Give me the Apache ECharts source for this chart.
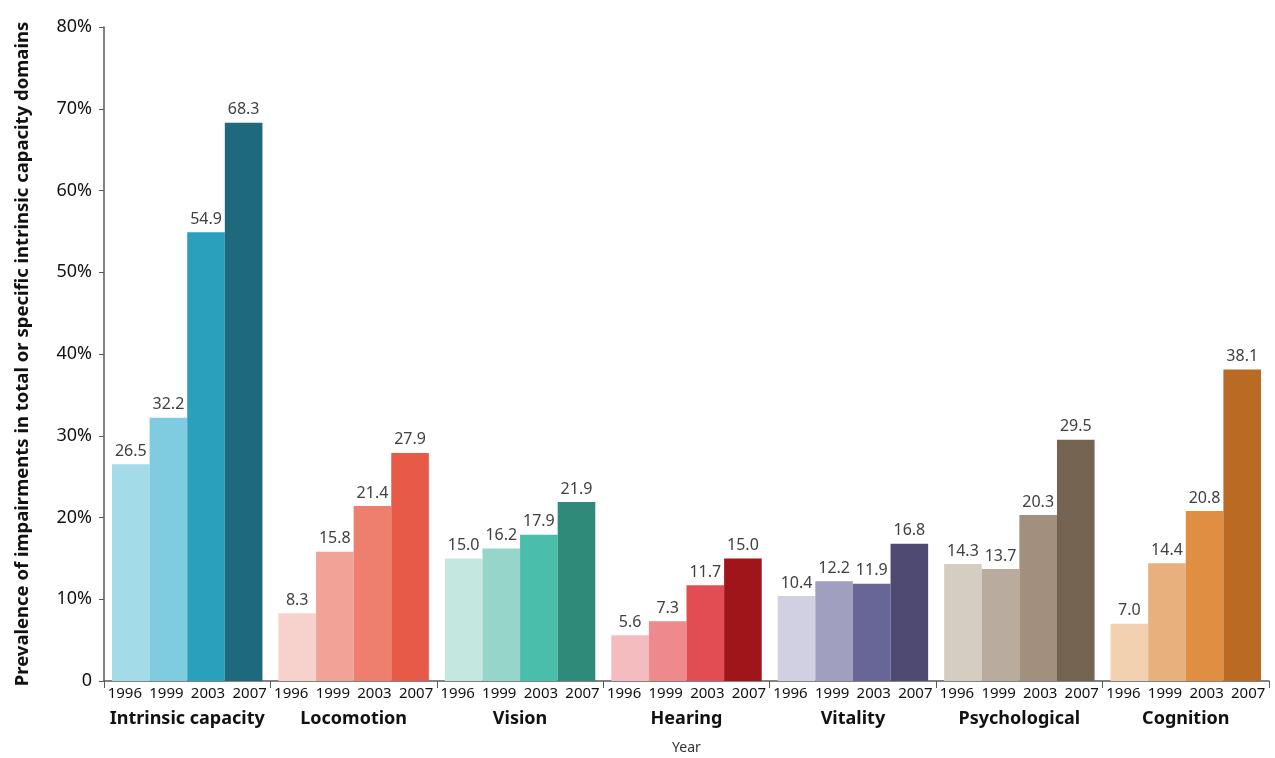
<!DOCTYPE html>
<html>
<head>
<meta charset="utf-8">
<script src="https://cdn.jsdelivr.net/npm/echarts@6/dist/echarts.min.js"></script>
<style>html,body{margin:0;padding:0;background:#fff;}#c{width:1275px;height:758px;}</style>
</head>
<body>
<div id="c"></div>
<script>
const categories = ['Intrinsic capacity','Locomotion','Vision','Hearing','Vitality','Psychological','Cognition'];
const years = ['1996','1999','2003','2007'];
const v1996 = [26.5, 8.3, 15.0, 5.6, 10.4, 14.3, 7.0];
const v1999 = [32.2, 15.8, 16.2, 7.3, 12.2, 13.7, 14.4];
const v2003 = [54.9, 21.4, 17.9, 11.7, 11.9, 20.3, 20.8];
const v2007 = [68.3, 27.9, 21.9, 15.0, 16.8, 29.5, 38.1];
const yTicks = [0,10,20,30,40,50,60,70,80];

const palette = [
  ['#a3dbe8','#7fcce0','#2aa0bc','#1e6a7c'],
  ['#f7d1cb','#f2a398','#ee7f6f','#e85a48'],
  ['#c4e8e0','#96d6ca','#4bbdab','#2f8a7a'],
  ['#f5bcc0','#ee8a8d','#e14d52','#a01519'],
  ['#d0d0e2','#a19fc0','#686597','#4f4a72'],
  ['#d5cdc1','#b9ab9d','#a28f7d','#756452'],
  ['#f2d1b0','#e8b07c','#df8e42','#bb6a24']
];
const FONT = '"Noto Sans", "Open Sans", sans-serif';
const allVals = [v1996, v1999, v2003, v2007];
const yearLabels = [];
categories.forEach(() => years.forEach(y => yearLabels.push(y)));

const series = allVals.map((vals, j) => ({
  type: 'bar',
  name: years[j],
  xAxisIndex: 0,
  yAxisIndex: 0,
  barGap: '0%',
  barCategoryGap: '9.6%',
  data: vals.map((v, i) => ({ value: v, itemStyle: { color: palette[i][j] } })),
  label: {
    show: true, position: 'top', distance: 5,
    color: '#404040', fontSize: 16, fontFamily: FONT,
    formatter: p => p.value.toFixed(1)
  }
}));

const chart = echarts.init(document.getElementById('c'), null, { renderer: 'canvas' });
chart.setOption({
  animation: false,
  backgroundColor: '#fff',
  grid: { left: 104, right: 6, top: 27, bottom: 77, outerBoundsMode: 'none', containLabel: false },
  xAxis: [
    {
      type: 'category', data: categories, position: 'bottom',
      axisLine: { lineStyle: { color: '#595959', width: 1.5 } },
      axisTick: { show: true, length: 7, lineStyle: { color: '#595959' } },
      axisLabel: { interval: 0, margin: 29, fontSize: 18, fontWeight: 'bold', color: '#111', fontFamily: FONT }
    },
    {
      type: 'category', data: yearLabels, position: 'bottom', gridIndex: 0,
      axisLine: { show: false }, axisTick: { show: false },
      axisLabel: { interval: 0, margin: 5, fontSize: 15, color: '#111', fontFamily: FONT },
      name: 'Year', nameLocation: 'middle', nameGap: 60,
      nameTextStyle: { fontSize: 14, color: '#333', fontFamily: FONT }
    }
  ],
  yAxis: {
    type: 'value', min: yTicks[0], max: yTicks[yTicks.length-1], interval: 10,
    axisLine: { show: true, lineStyle: { color: '#595959', width: 1.5 } },
    axisTick: { show: true, length: 5, lineStyle: { color: '#595959' } },
    splitLine: { show: false },
    axisLabel: { margin: 12, fontSize: 18, color: '#111', fontFamily: FONT,
      formatter: v => v === 0 ? '0' : v + '%' },
    name: 'Prevalence of impairments in total or specific intrinsic capacity domains',
    nameLocation: 'middle', nameGap: 72, nameRotate: 90,
    nameTextStyle: { fontSize: 18.5, fontWeight: 'bold', color: '#111', fontFamily: FONT }
  },
  series: series
});
</script>
</body>
</html>
